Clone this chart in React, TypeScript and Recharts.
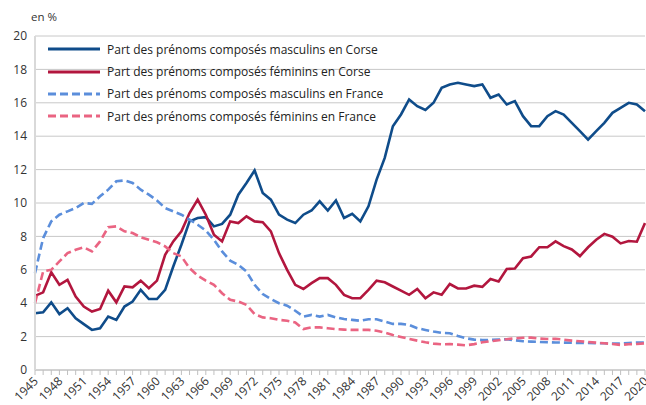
import { LineChart, Line, XAxis, YAxis, CartesianGrid, Legend } from 'recharts';

const years = [
  1945, 1946, 1947, 1948, 1949, 1950, 1951, 1952, 1953, 1954,
  1955, 1956, 1957, 1958, 1959, 1960, 1961, 1962, 1963, 1964,
  1965, 1966, 1967, 1968, 1969, 1970, 1971, 1972, 1973, 1974,
  1975, 1976, 1977, 1978, 1979, 1980, 1981, 1982, 1983, 1984,
  1985, 1986, 1987, 1988, 1989, 1990, 1991, 1992, 1993, 1994,
  1995, 1996, 1997, 1998, 1999, 2000, 2001, 2002, 2003, 2004,
  2005, 2006, 2007, 2008, 2009, 2010, 2011, 2012, 2013, 2014,
  2015, 2016, 2017, 2018, 2019, 2020,
];

// part des prénoms composés masculins en Corse (%)
const mascCorse = [
  3.4, 3.45, 4.05, 3.35, 3.7, 3.1, 2.75, 2.4, 2.5, 3.2,
  3.0, 3.8, 4.1, 4.8, 4.25, 4.25, 4.8, 6.2, 7.5, 8.9,
  9.1, 9.15, 8.6, 8.75, 9.3, 10.5, 11.2, 11.95, 10.6, 10.2,
  9.3, 9.0, 8.8, 9.3, 9.55, 10.1, 9.55, 10.15, 9.1, 9.35,
  8.9, 9.8, 11.4, 12.7, 14.6, 15.3, 16.2, 15.8, 15.57, 16.0,
  16.9, 17.1, 17.2, 17.1, 17.0, 17.1, 16.3, 16.5, 15.9, 16.1,
  15.2, 14.6, 14.6, 15.2, 15.5, 15.3, 14.8, 14.3, 13.8, 14.3,
  14.8, 15.4, 15.7, 16.0, 15.9, 15.5,
];

// part des prénoms composés féminins en Corse (%)
const femCorse = [
  4.44, 4.65, 5.85, 5.1, 5.4, 4.4, 3.8, 3.5, 3.65, 4.75,
  4.05, 5.0, 4.95, 5.35, 4.9, 5.35, 6.9, 7.7, 8.3, 9.4,
  10.2, 9.3, 8.1, 7.7, 8.9, 8.8, 9.2, 8.9, 8.85, 8.3,
  7.0, 6.0, 5.1, 4.85, 5.2, 5.5, 5.5, 5.1, 4.5, 4.3,
  4.3, 4.8, 5.35, 5.25, 5.0, 4.75, 4.5, 4.85, 4.3, 4.65,
  4.5, 5.15, 4.88, 4.88, 5.05, 4.98, 5.45, 5.3, 6.05, 6.08,
  6.7, 6.8, 7.35, 7.35, 7.7, 7.42, 7.22, 6.82, 7.35, 7.8,
  8.15, 7.98, 7.58, 7.72, 7.68, 8.8,
];

// part des prénoms composés masculins en France (%)
const mascFrance = [
  5.8, 7.9, 8.9, 9.3, 9.5, 9.7, 10.0, 9.95, 10.4, 10.8,
  11.3, 11.35, 11.2, 10.8, 10.5, 10.15, 9.7, 9.5, 9.3, 9.0,
  8.7, 8.35, 7.8, 7.1, 6.55, 6.3, 5.9, 5.1, 4.55, 4.25,
  4.0, 3.85, 3.55, 3.2, 3.3, 3.2, 3.3, 3.15, 3.05, 3.0,
  2.95, 3.04, 3.04, 2.9, 2.76, 2.76, 2.7, 2.5, 2.4, 2.3,
  2.22, 2.2, 2.04, 1.9, 1.82, 1.8, 1.8, 1.82, 1.84, 1.78,
  1.72, 1.7, 1.68, 1.66, 1.65, 1.64, 1.63, 1.62, 1.62, 1.6,
  1.6, 1.58, 1.58, 1.62, 1.64, 1.64,
];

// part des prénoms composés féminins en France (%)
const femFrance = [
  4.0, 5.9, 6.0, 6.5, 7.0, 7.2, 7.35, 7.1, 7.7, 8.55,
  8.6, 8.3, 8.2, 7.95, 7.8, 7.65, 7.4, 7.0, 6.8, 6.1,
  5.65, 5.35, 5.1, 4.6, 4.2, 4.1, 3.9, 3.35, 3.15, 3.1,
  3.0, 2.95, 2.85, 2.45, 2.55, 2.55, 2.5, 2.45, 2.42, 2.4,
  2.4, 2.4, 2.35, 2.24, 2.1, 1.98, 1.86, 1.76, 1.66, 1.58,
  1.54, 1.55, 1.52, 1.48, 1.55, 1.66, 1.72, 1.78, 1.84, 1.9,
  1.93, 1.94, 1.88, 1.86, 1.87, 1.82, 1.76, 1.72, 1.68, 1.64,
  1.6, 1.56, 1.5, 1.54, 1.56, 1.6,
];

const yTicks = [0, 2, 4, 6, 8, 10, 12, 14, 16, 18, 20];

const FONT = '"Open Sans", "DejaVu Sans", sans-serif';

const SERIES = [
  { key: 'mascCorse', name: 'Part des prénoms composés masculins en Corse', color: '#0f4c8a', dash: undefined },
  { key: 'femCorse', name: 'Part des prénoms composés féminins en Corse', color: '#b2163e', dash: undefined },
  { key: 'mascFrance', name: 'Part des prénoms composés masculins en France', color: '#5b8edb', dash: '8 4' },
  { key: 'femFrance', name: 'Part des prénoms composés féminins en France', color: '#ea6482', dash: '8 4' },
];

const data = years.map((year, i) => ({
  year,
  mascCorse: mascCorse[i],
  femCorse: femCorse[i],
  mascFrance: mascFrance[i],
  femFrance: femFrance[i],
}));

// labels tous les 3 ans, penchés à 45°
const YearTick = (props: any) => {
  const { x, y, payload } = props;
  if ((payload.value - 1945) % 3 !== 0) return <g />;
  return (
    <g transform={`translate(${x + 1},${y + 4})`}>
      <text textAnchor="end" transform="rotate(-45)" dy="0.35em" fontSize={12} fill="#333" fontFamily={FONT}>
        {payload.value}
      </text>
    </g>
  );
};

const renderLegend = () => (
  <div style={{ fontFamily: FONT, fontSize: 12, color: '#222' }}>
    {SERIES.map((s) => (
      <div key={s.key} style={{ display: 'flex', alignItems: 'center', height: 22.4 }}>
        <svg width={53} height={6}>
          <line x1={0} y1={3} x2={52} y2={3} stroke={s.color} strokeWidth={3} strokeDasharray={s.dash} />
        </svg>
        <span style={{ marginLeft: 6, whiteSpace: 'nowrap' }}>{s.name}</span>
      </div>
    ))}
  </div>
);

export default function App() {
  return (
    <div style={{ position: 'absolute', left: 0, top: 0, width: 646, height: 405, background: '#fff' }}>
      <div style={{ position: 'absolute', left: 31, top: 9, fontFamily: FONT, fontSize: 11.5, color: '#333' }}>en %</div>
      <LineChart width={646} height={405} data={data} margin={{ top: 36, right: 1, bottom: 0, left: 0 }}>
        <CartesianGrid vertical={false} stroke="#c8c8c8" />
        <XAxis
          dataKey="year"
          interval={0}
          height={35}
          tickSize={5}
          tickMargin={0}
          tick={<YearTick />}
          axisLine={{ stroke: '#c0c0c0' }}
          tickLine={{ stroke: '#c0c0c0' }}
        />
        <YAxis
          domain={[0, 20]}
          ticks={yTicks}
          width={35}
          interval={0}
          axisLine={{ stroke: '#d9d9d9', strokeWidth: 2 }}
          tickLine={false}
          tick={{ fontSize: 12, fill: '#333', fontFamily: FONT }}
        />
        <Legend
          layout="vertical"
          align="center"
          verticalAlign="middle"
          content={renderLegend}
          wrapperStyle={{ left: 48, top: 38, width: 'auto' }}
        />
        {SERIES.map((s) => (
          <Line
            key={s.key}
            type="linear"
            dataKey={s.key}
            name={s.name}
            stroke={s.color}
            strokeWidth={2.6}
            strokeDasharray={s.dash}
            dot={false}
            isAnimationActive={false}
          />
        ))}
      </LineChart>
    </div>
  );
}
